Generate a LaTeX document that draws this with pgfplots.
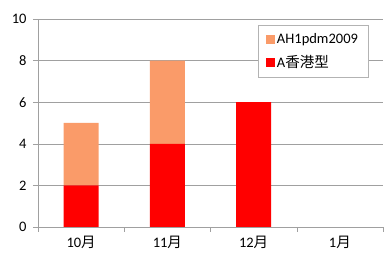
\documentclass[border=0pt]{standalone}
\usepackage{pgfplots}
\pgfplotsset{compat=1.18}
\usepackage{fontspec}
\setmainfont{Carlito}
\newfontfamily\cjk{Noto Sans CJK JP}
\definecolor{orangeA}{RGB}{250,155,105}
\definecolor{gridg}{RGB}{160,160,160}
\begin{document}
\begin{tikzpicture}
\begin{axis}[
  scale only axis, width=345pt, height=208pt,
  ybar stacked, bar width=35pt,
  xmin=-0.5, xmax=3.5, ymin=0, ymax=10,
  ytick={0,2,...,10},
  xtick={0,1,2,3},
  xticklabels={10{\cjk 月},11{\cjk 月},12{\cjk 月},1{\cjk 月}},
  minor xtick={-0.5,0.5,1.5,2.5,3.5},
  major x tick style={draw=none},
  tick align=outside,
  tick style={gridg},
  major tick length=5pt, minor tick length=5pt,
  axis x line*=bottom, axis y line*=left,
  axis line style={gridg,-},
  ymajorgrids, grid style={gridg},
  /pgf/number format/assume math mode=true,
  tick label style={font=\fontsize{14.5}{17}\selectfont, black},
  yticklabel style={xshift=-3pt},
  xticklabel style={yshift=-1pt},
  legend style={at={(0.957,0.971)}, anchor=north east, draw=gridg!80,
    font=\fontsize{14.5}{17}\selectfont, row sep=7pt, inner xsep=8pt, inner ysep=6pt,
    cells={anchor=west}},
  reverse legend,
  legend image code/.code={\fill[#1] (0pt,-4.5pt) rectangle (9pt,4.5pt);},
]
\addplot[fill=red, draw=none] coordinates {(0,2) (1,4) (2,6) (3,0)};
\addplot[fill=orangeA, draw=none] coordinates {(0,3) (1,4) (2,0) (3,0)};
\legend{A{\cjk 香港型}, AH1pdm2009}
\end{axis}
\pgfresetboundingbox
\path[use as bounding box] (-38pt,-29pt) rectangle (346pt,227pt);
\end{tikzpicture}
\end{document}
